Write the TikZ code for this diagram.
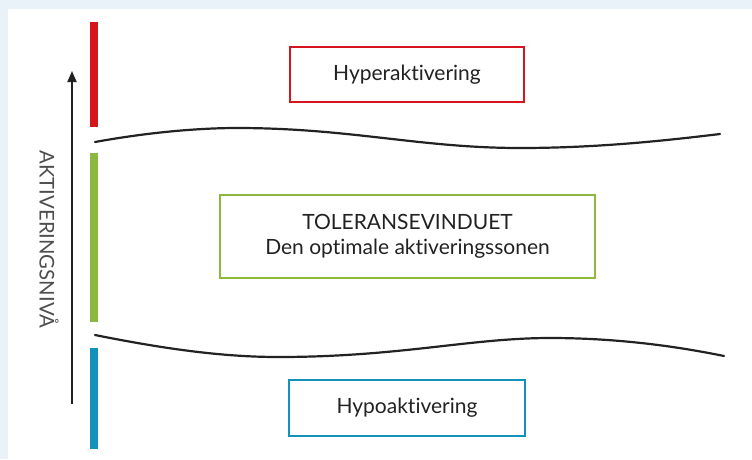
\documentclass[tikz,border=0pt]{standalone}
\usepackage{fontspec}
\setmainfont{Lato}[Ligatures={NoCommon,NoRequired,NoContextual}]
\usetikzlibrary{arrows.meta}
\definecolor{bgblue}{HTML}{E9F2F9}
\definecolor{hyred}{HTML}{D7151F}
\definecolor{tolgreen}{HTML}{8DB83F}
\definecolor{hypblue}{HTML}{1592BB}
\definecolor{ink}{HTML}{222222}
\tikzset{
  zonebox/.style={draw=#1, line width=2pt, fill=white, inner sep=0pt, align=center,
     font=\fontsize{21}{25}\selectfont, text=ink},
  bar/.style={fill=#1, draw=none},
  wave/.style={draw=ink, line width=2.2pt, line cap=round},
  axisarrow/.style={draw=ink, line width=2pt, -{Triangle[length=11pt,width=9pt]}}
}
\begin{document}
\begin{tikzpicture}[x=1pt,y=-1pt]
\fill[bgblue] (0,0) rectangle (752,459);
\fill[white] (8,9) rectangle (752,459);
\useasboundingbox (0,0) rectangle (752,459);
% bars
\fill[bar=hyred] (90,22) rectangle (98,127);
\fill[bar=tolgreen] (90,153) rectangle (98,322);
\fill[bar=hypblue] (90,348) rectangle (98,449);
% axis arrow
\coordinate (abot) at (72,404);
\coordinate (atop) at (72,71);
\draw[axisarrow] (abot) -- (atop);
\node[rotate=-90, font=\fontsize{20.3}{20.3}\selectfont, text=ink!80, inner sep=0pt] (axlabel) at (49,239.5) {AKTIVERINGSNIVÅ};
% waves
\draw[wave] (95,142) .. controls (150,132) and (200,128) .. (237,128)
  .. controls (350,128) and (420,148) .. (520,148)
  .. controls (600,148) and (670,140) .. (720,134);
\draw[wave] (95,335) .. controls (160,348) and (220,357) .. (278,357)
  .. controls (400,357) and (470,338) .. (550,338)
  .. controls (620,338) and (680,347) .. (724,356);
% boxes
\node[zonebox=hyred, minimum width=234pt, minimum height=55pt] (hyper) at (407,74.5) {Hyperaktivering};
\node[zonebox=tolgreen, minimum width=375pt, minimum height=83pt] (tol) at (407.5,236.5) {TOLERANSEVINDUET\\Den optimale aktiveringssonen};
\node[zonebox=hypblue, minimum width=236pt, minimum height=56pt] (hypo) at (407,408) {Hypoaktivering};
\end{tikzpicture}
\end{document}
